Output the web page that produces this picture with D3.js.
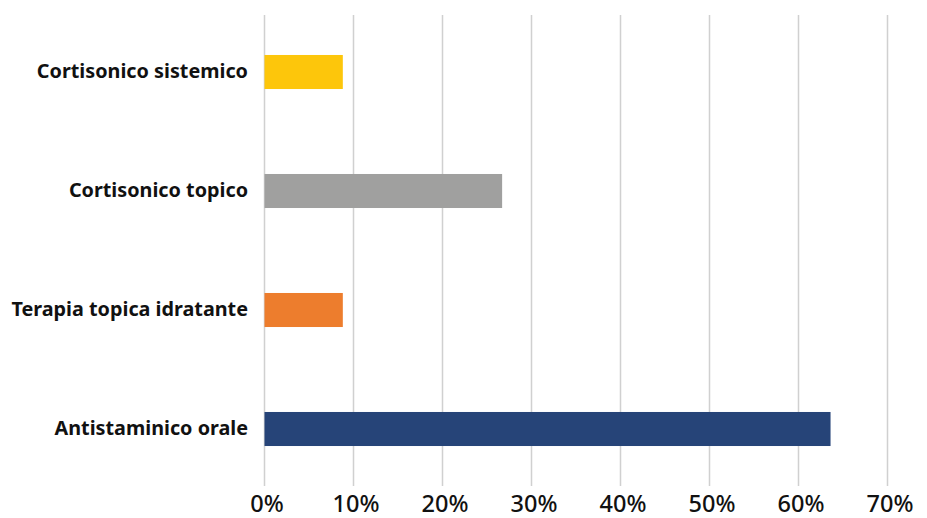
<!DOCTYPE html>
<html>
<head>
<meta charset="utf-8">
<script src="https://cdn.jsdelivr.net/npm/d3@7"></script>
<style>
  html, body { margin: 0; padding: 0; background: #fff; }
  svg { display: block; }
</style>
</head>
<body>
<svg id="chart" width="927" height="518"></svg>
<script>
// Treatments, top to bottom
const categories = ["Cortisonico sistemico", "Cortisonico topico", "Terapia topica idratante", "Antistaminico orale"];
// Share of patients (%)
const values = [8.8, 26.7, 8.8, 63.6];
const colors = ["#FDC60B", "#A0A09F", "#ED7D2D", "#264478"];
const tickValues = [0, 10, 20, 30, 40, 50, 60, 70];

const svg = d3.select("#chart");
const x = d3.scaleLinear().domain([0, 70]).range([264.5, 887.5]);
const y = d3.scaleBand().domain(categories).range([12.5, 488.5]).paddingInner(0.714).paddingOuter(0.357);

const gridTop = 15, gridBottom = 486;

// vertical gridlines
svg.append("g").selectAll("line").data(tickValues).join("line")
  .attr("x1", d => x(d)).attr("x2", d => x(d))
  .attr("y1", gridTop).attr("y2", gridBottom)
  .attr("stroke", "#D0D0D0").attr("stroke-width", 1.5);

// bars
svg.append("g").selectAll("rect").data(categories).join("rect")
  .attr("x", x(0))
  .attr("y", d => y(d))
  .attr("width", (d, i) => x(values[i]) - x(0))
  .attr("height", y.bandwidth())
  .attr("fill", (d, i) => colors[i]);

// category labels
const yAxis = d3.axisLeft(y).tickSize(0).tickPadding(0);
const gy = svg.append("g").attr("transform", "translate(248,0)").call(yAxis);
gy.select(".domain").remove();
gy.selectAll("text")
  .attr("font-family", "'Noto Sans', sans-serif")
  .attr("font-weight", "bold")
  .attr("font-size", 19.8)
  .attr("fill", "#111");

// percentage axis
const xAxis = d3.axisBottom(x).tickValues(tickValues).tickFormat(d => d + "%").tickSize(0).tickPadding(0);
const gx = svg.append("g").attr("transform", "translate(2,512)").call(xAxis);
gx.select(".domain").remove();
gx.selectAll("text")
  .attr("y", 0)
  .attr("dy", 0)
  .attr("font-family", "'Noto Sans', sans-serif")
  .attr("font-weight", 500)
  .attr("font-size", 23.5)
  .attr("fill", "#111");
</script>
</body>
</html>
